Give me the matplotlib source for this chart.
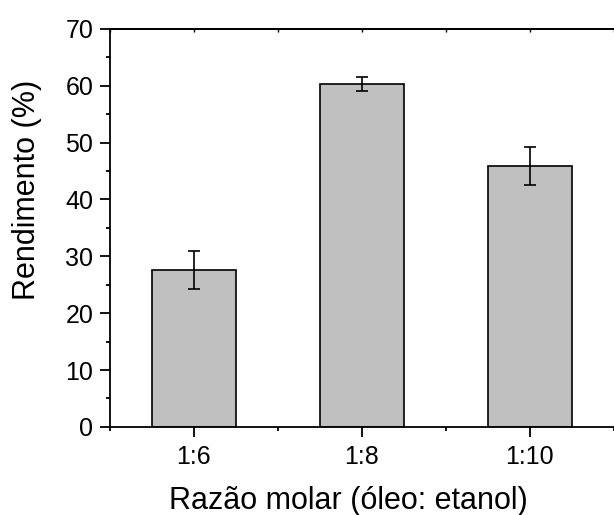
import matplotlib
matplotlib.use('Agg')
import matplotlib.pyplot as plt
from matplotlib.ticker import MultipleLocator

plt.rcParams['font.family'] = ['Liberation Sans', 'DejaVu Sans']

razoes = ['1:6', '1:8', '1:10']
rendimento = [27.6, 60.3, 45.9]
desvio = [3.3, 1.2, 3.3]

fig = plt.figure(figsize=(6.14, 5.15), dpi=100)
ax = fig.add_axes([0.179, 0.171, 0.834, 0.773])

x = list(range(1, len(razoes) + 1))
ax.bar(x, rendimento, width=0.5, color='#c0c0c0', edgecolor='black', linewidth=1.2,
       yerr=desvio, error_kw=dict(ecolor='black', elinewidth=1.2, capsize=4.5, capthick=1.2))

ax.set_xlim(0.5, 3.55)
ax.set_ylim(0, 70)
ax.set_xticks(x)
ax.set_xticklabels(razoes)
ax.xaxis.set_minor_locator(MultipleLocator(0.5))
ax.yaxis.set_major_locator(MultipleLocator(10))
ax.yaxis.set_minor_locator(MultipleLocator(5))

for s in ax.spines.values():
    s.set_linewidth(1.3)
ax.spines['right'].set_visible(False)

ax.tick_params(which='major', direction='out', length=7, width=1.3, labelsize=18)
ax.tick_params(which='minor', direction='out', length=3, width=1.3)
ax.tick_params(axis='x', which='major', pad=6)
ax.tick_params(axis='y', which='major', pad=5)

# small inward ticks on the top border
top = ax.secondary_xaxis('top')
top.set_xticks(x)
top.xaxis.set_minor_locator(MultipleLocator(0.5))
top.tick_params(which='both', direction='in', length=2, width=1, labeltop=False)
top.spines['top'].set_linewidth(1.3)

ax.set_xlabel('Razão molar (óleo: etanol)', fontsize=22)
ax.set_ylabel('Rendimento (%)', fontsize=22)
ax.xaxis.set_label_coords(0.466, -0.148)
ax.yaxis.set_label_coords(-0.133, 0.595)

fig.savefig('out.png', dpi=100)
